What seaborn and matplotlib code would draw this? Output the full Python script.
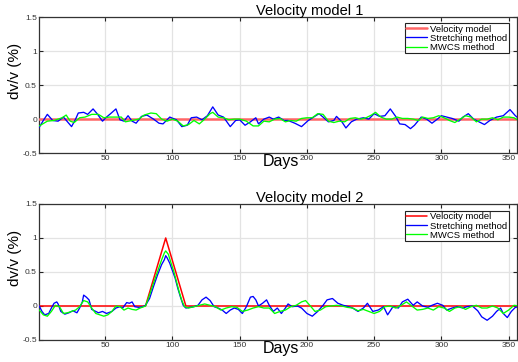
import matplotlib
matplotlib.use("Agg")
import matplotlib.pyplot as plt
import seaborn as sns

# ---- data ----
# panel 1: constant velocity model
m1_model_days = [1, 360]
m1_model_vals = [0.0, 0.0]

m1_str_days = [1, 4, 7, 11, 15, 19, 22, 25, 28, 30, 34, 37, 41, 44, 48, 51, 54, 58, 61, 64,
               67, 70, 73, 77, 81, 86, 90, 93, 98, 103, 107, 111, 114, 118, 122, 126, 130, 134, 138, 143,
               147, 150, 154, 158, 162, 164, 168, 172, 175, 179, 183, 186, 191, 196, 201, 205, 209, 212, 216, 220,
               222, 226, 229, 233, 237, 242, 246, 250, 254, 258, 262, 266, 269, 273, 277, 280, 285, 289, 293, 297,
               300, 304, 308, 313, 316, 320, 324, 328, 332, 336, 341, 346, 351, 355, 358]
m1_str_vals = [-0.12, -0.02, 0.07, -0.02, -0.03, 0.03, -0.04, -0.11, 0.0, 0.09,
               0.10, 0.07, 0.15, 0.08, -0.03, 0.03, 0.08, 0.15, -0.01, -0.03,
               0.05, -0.03, -0.06, 0.04, 0.06, 0.0, -0.06, -0.07, 0.03, -0.01,
               -0.11, -0.09, 0.02, 0.03, -0.01, 0.05, 0.18, 0.06, 0.03, -0.11,
               -0.02, -0.01, -0.09, -0.04, 0.02, -0.07, 0.0, 0.03, 0.0, 0.03,
               -0.02, -0.02, -0.06, -0.11, -0.02, 0.03, 0.08, 0.03, -0.04, -0.02,
               0.04, -0.04, -0.13, -0.04, 0.0, 0.02, 0.0, 0.08, 0.04, 0.05,
               0.15, 0.04, -0.07, -0.08, -0.14, -0.09, 0.03, 0.0, -0.06, 0.0,
               0.05, 0.03, 0.01, -0.03, 0.03, 0.08, 0.0, -0.04, -0.08, -0.02,
               0.03, 0.05, 0.14, 0.05, 0.0]

m1_mwcs_days = [1, 7, 12, 18, 21, 24, 27, 31, 35, 40, 45, 49, 53, 58, 62, 65, 70, 75, 79, 84,
                88, 92, 96, 100, 104, 108, 112, 116, 120, 124, 128, 130, 134, 138, 142, 146, 150, 155, 160, 164,
                168, 172, 176, 180, 184, 188, 192, 196, 200, 204, 208, 212, 216, 220, 224, 228, 232, 236, 240, 244,
                248, 251, 255, 259, 263, 267, 271, 275, 279, 283, 286, 290, 294, 298, 302, 306, 310, 314, 318, 322,
                326, 330, 334, 338, 342, 346, 350, 354, 358]
m1_mwcs_vals = [-0.10, -0.03, -0.02, 0.02, 0.06, -0.03, -0.05, 0.02, 0.03, 0.07,
                0.07, 0.02, 0.03, 0.03, 0.03, -0.04, -0.02, 0.0, 0.06, 0.09,
                0.08, 0.0, -0.03, 0.0, -0.03, -0.10, -0.08, -0.02, -0.07, 0.0,
                0.08, 0.10, 0.03, 0.02, -0.01, 0.0, 0.0, -0.03, -0.10, -0.10,
                -0.03, -0.04, 0.0, 0.01, -0.04, -0.02, -0.03, 0.01, 0.02, 0.02,
                0.08, 0.07, -0.03, -0.05, -0.03, -0.04, 0.01, 0.02, 0.0, 0.02,
                0.06, 0.10, 0.03, 0.0, 0.0, 0.03, 0.01, 0.01, 0.0, -0.02,
                0.03, 0.01, 0.02, 0.05, 0.02, -0.02, -0.05, 0.0, 0.05, 0.03,
                -0.04, 0.0, 0.0, 0.02, -0.01, 0.03, 0.03, 0.02, -0.03]

# panel 2: triangular velocity change around day 95
m2_model_days = [1, 80, 95, 110, 360]
m2_model_vals = [0.0, 0.0, 1.0, 0.0, 0.0]

m2_str_days = [1, 3, 5, 8, 10, 12, 14, 15, 17, 20, 23, 26, 29, 31, 33, 34, 36, 38, 40, 42,
               45, 48, 51, 55, 58, 61, 63, 66, 68, 70, 72, 75, 78, 80, 83, 86, 89, 92, 94, 95,
               96, 98, 100, 102, 104, 106, 108, 110, 113, 116, 119, 122, 125, 128, 131, 134, 137, 140, 143, 146,
               149, 152, 155, 158, 160, 162, 164, 167, 170, 172, 175, 178, 181, 184, 186, 189, 193, 196, 200, 204,
               208, 212, 215, 219, 223, 227, 231, 234, 238, 242, 245, 249, 253, 257, 260, 264, 268, 271, 275, 279,
               282, 286, 290, 293, 297, 301, 304, 308, 312, 316, 319, 323, 327, 330, 334, 338, 341, 344, 346, 349,
               352, 355, 358]
m2_str_vals = [0.0, -0.08, -0.13, -0.11, -0.03, 0.04, 0.06, 0.03, -0.08, -0.12,
               -0.10, -0.07, -0.10, -0.03, 0.06, 0.16, 0.13, 0.09, -0.05, -0.07,
               -0.10, -0.08, -0.11, -0.08, -0.03, -0.01, -0.03, 0.05, 0.04, 0.06,
               -0.01, -0.02, -0.01, 0.01, 0.11, 0.29, 0.46, 0.61, 0.68, 0.74,
               0.71, 0.63, 0.52, 0.41, 0.26, 0.13, 0.01, -0.03, -0.02, -0.01,
               0.01, 0.09, 0.13, 0.08, -0.01, -0.03, -0.06, -0.11, -0.06, -0.03,
               -0.05, -0.11, -0.01, 0.13, 0.14, 0.09, 0.0, 0.04, 0.09, 0.01,
               -0.08, -0.03, -0.11, -0.03, 0.03, -0.01, 0.0, -0.03, -0.11, -0.15,
               -0.08, 0.01, 0.09, 0.11, 0.04, 0.01, -0.01, -0.03, -0.08, -0.03,
               0.04, -0.08, -0.06, -0.01, -0.13, -0.01, -0.03, 0.06, 0.10, 0.01,
               0.06, 0.0, -0.02, 0.01, 0.04, 0.01, -0.06, -0.03, -0.01, -0.03,
               -0.01, 0.0, -0.07, -0.16, -0.21, -0.15, -0.08, -0.03, -0.11, -0.17,
               -0.08, -0.02, -0.01]

m2_mwcs_days = [1, 4, 7, 10, 13, 16, 19, 22, 25, 28, 31, 34, 37, 40, 43, 46, 49, 52, 55, 58,
                61, 64, 67, 70, 73, 76, 80, 83, 86, 89, 92, 94, 95, 97, 99, 101, 103, 105, 107, 109,
                112, 116, 120, 124, 128, 132, 136, 140, 144, 148, 152, 156, 160, 164, 168, 172, 176, 180, 184, 188,
                192, 196, 199, 203, 206, 210, 214, 218, 222, 226, 230, 234, 238, 242, 246, 250, 254, 258, 262, 266,
                270, 274, 278, 282, 286, 290, 294, 298, 302, 306, 310, 314, 318, 322, 326, 330, 334, 338, 342, 346,
                350, 354, 358]
m2_mwcs_vals = [-0.06, -0.13, -0.15, -0.08, 0.01, -0.01, -0.11, -0.10, -0.08, -0.06,
                -0.01, 0.08, 0.06, -0.03, -0.11, -0.13, -0.15, -0.13, -0.08, 0.0,
                -0.01, -0.06, -0.03, -0.05, -0.06, -0.03, 0.0, 0.16, 0.34, 0.51,
                0.68, 0.78, 0.81, 0.76, 0.63, 0.51, 0.36, 0.21, 0.08, -0.01,
                -0.03, -0.01, 0.01, 0.03, 0.01, -0.01, -0.06, -0.03, -0.01, -0.02,
                -0.08, -0.06, -0.03, -0.01, -0.03, -0.03, -0.11, -0.08, -0.06, -0.01,
                0.01, 0.06, 0.08, -0.01, -0.08, -0.06, -0.01, 0.0, 0.01, 0.0,
                -0.02, -0.03, -0.07, -0.05, -0.08, -0.11, -0.08, -0.01, 0.0, -0.03,
                0.01, 0.06, 0.0, -0.06, -0.05, -0.03, -0.06, -0.01, -0.03, -0.08,
                -0.03, -0.01, -0.05, -0.01, 0.01, -0.03, -0.03, 0.0, -0.03, -0.11,
                -0.06, 0.01, 0.0]

x_ticks = [50, 100, 150, 200, 250, 300, 350]
y_ticks = [-0.5, 0, 0.5, 1, 1.5]
y_tick_labels = ["-0.5", "0", "0.5", "1", "1.5"]

sns.set_style("ticks")
plt.rcParams['font.family'] = ['Liberation Sans', 'DejaVu Sans']
plt.rcParams['text.color'] = 'black'
plt.rcParams['axes.labelcolor'] = 'black'

fig = plt.figure(figsize=(5.18, 3.62), dpi=100)
ax1 = fig.add_axes([0.0753, 0.577, 0.923, 0.3757])
ax2 = fig.add_axes([0.0753, 0.0608, 0.923, 0.3757])


def draw_panel(ax, title, mdays, mvals, mcolor, mlw, sdays, svals, wdays, wvals, leg_top):
    sns.lineplot(x=mdays, y=mvals, ax=ax, color=mcolor, lw=mlw, label="Velocity model",
                 estimator=None, sort=False, zorder=3)
    sns.lineplot(x=sdays, y=svals, ax=ax, color="#0000ff", lw=0.95, label="Stretching method",
                 estimator=None, sort=False, zorder=4)
    sns.lineplot(x=wdays, y=wvals, ax=ax, color="#00ff00", lw=0.95, label="MWCS method",
                 estimator=None, sort=False, zorder=5)
    ax.set_xlim(0.8, 356.3)
    ax.set_ylim(-0.5, 1.5)
    ax.set_xticks(x_ticks)
    ax.set_yticks(y_ticks)
    ax.set_yticklabels(y_tick_labels)
    ax.grid(True, color="#e3e3e3", lw=0.9)
    ax.tick_params(direction="in", length=3, width=0.8, labelsize=6, colors="#222222",
                   labelcolor="#333333", top=True, right=True, pad=1.5)
    for sp in ax.spines.values():
        sp.set_color("#333333")
        sp.set_linewidth(0.9)
    ax.set_title(title, fontsize=10.5, x=0.566, pad=1.5, color="black")
    ax.set_xlabel("Days", fontsize=11.5, color="black")
    ax.xaxis.set_label_coords(0.507, -0.005)
    ax.set_ylabel("dv/v (%)", fontsize=11, color="black")
    ax.yaxis.set_label_coords(-0.035, 0.603)
    leg = ax.legend(loc="upper right", bbox_to_anchor=(0.982, leg_top), fontsize=6.8,
                    frameon=True, fancybox=False, framealpha=1, edgecolor="#222222",
                    handlelength=2.2, handletextpad=0.3, labelspacing=0.02,
                    borderpad=0.15, borderaxespad=0)
    leg.get_frame().set_linewidth(0.8)


draw_panel(ax1, "Velocity model 1", m1_model_days, m1_model_vals, "#ff6666", 1.8,
           m1_str_days, m1_str_vals, m1_mwcs_days, m1_mwcs_vals, 0.956)
draw_panel(ax2, "Velocity model 2", m2_model_days, m2_model_vals, "#ff0000", 1.1,
           m2_str_days, m2_str_vals, m2_mwcs_days, m2_mwcs_vals, 0.949)

fig.savefig("out.png", dpi=100)
